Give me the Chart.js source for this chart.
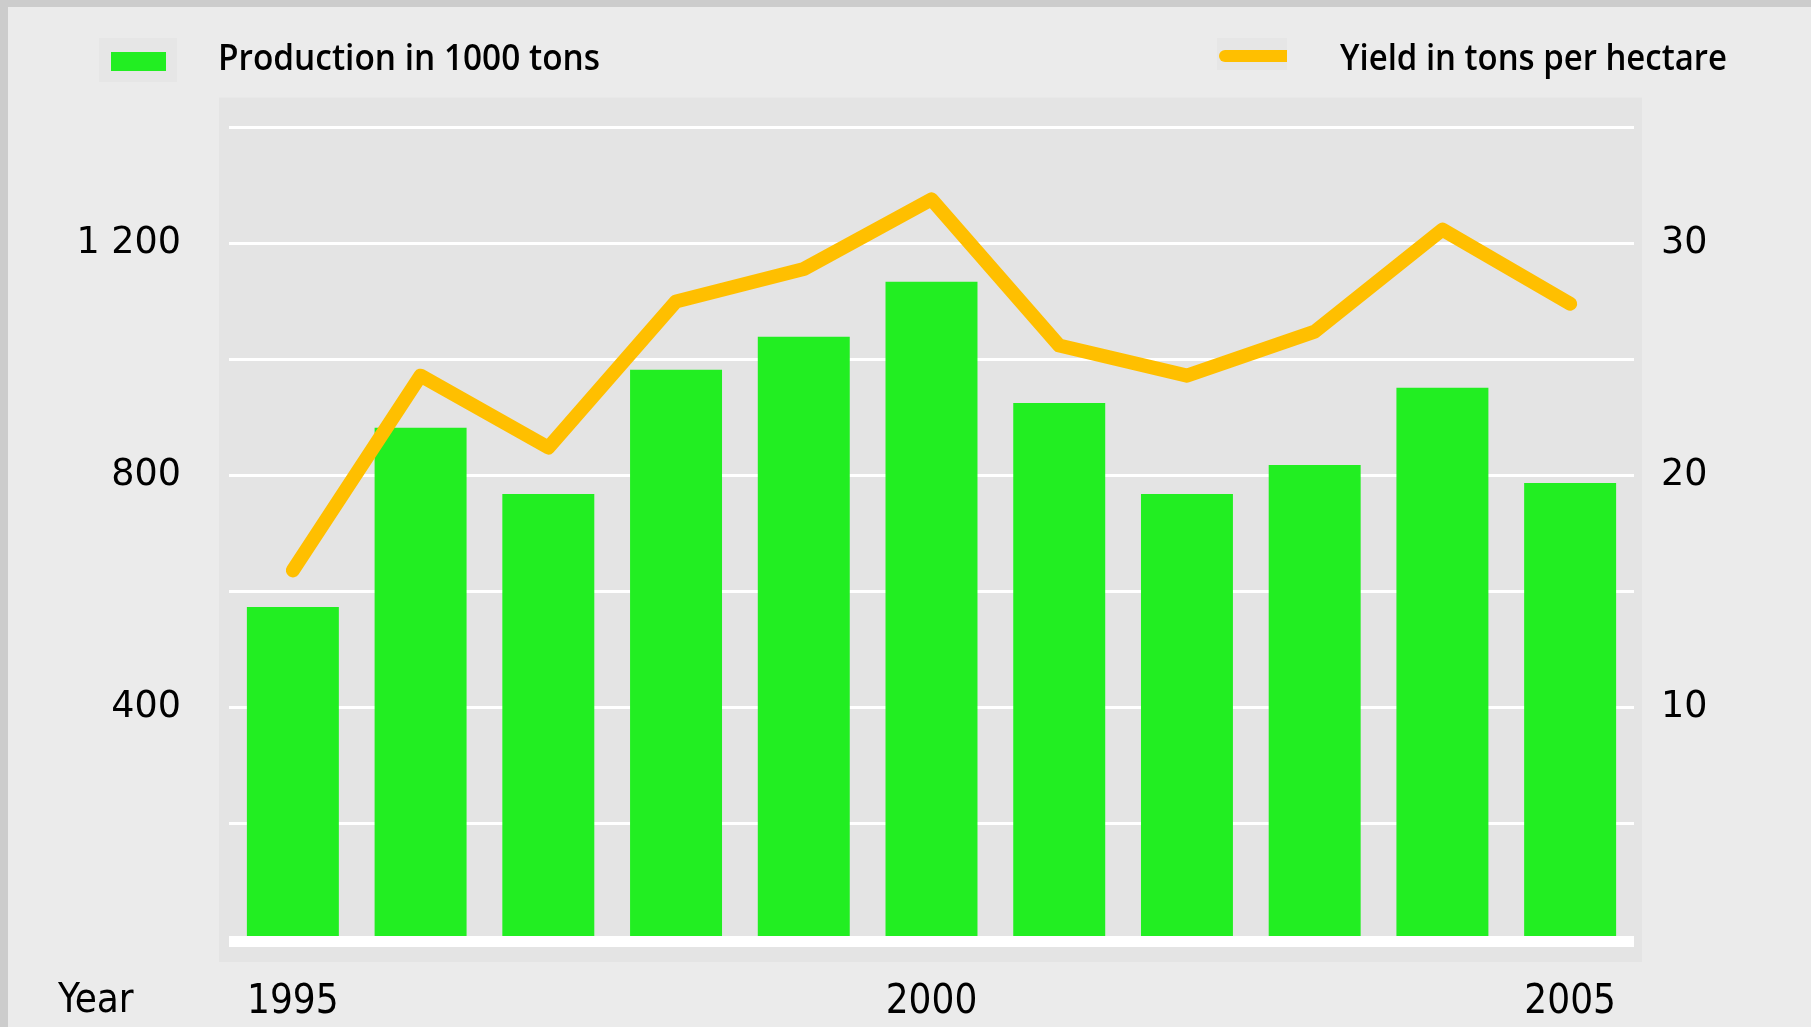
<!DOCTYPE html>
<html>
<head>
<meta charset="utf-8">
<script src="https://cdn.jsdelivr.net/npm/chart.js@4/dist/chart.umd.min.js"></script>
<style>
  html, body { margin: 0; padding: 0; }
  body { width: 1811px; height: 1027px; background: #ebebeb; position: relative; overflow: hidden; }
  #topBorder { position: absolute; left: 0; top: 0; width: 1811px; height: 7px; background: #cccccc; }
  #leftBorder { position: absolute; left: 0; top: 0; width: 8px; height: 1027px; background: #cccccc; }
  #c { position: absolute; left: 0; top: 0; }
  #overlay { position: absolute; left: 0; top: 0; pointer-events: none; }
</style>
</head>
<body>
<div id="topBorder"></div>
<div id="leftBorder"></div>
<canvas id="c" width="1811" height="1027"></canvas>
<svg id="overlay" width="1811" height="1027" xmlns="http://www.w3.org/2000/svg"></svg>
<script>
// ---- Data ----
const years = ['1995','1996','1997','1998','1999','2000','2001','2002','2003','2004','2005'];
const shownYearLabels = ['1995','2000','2005'];
const production = [573, 882, 768, 982, 1039, 1134, 925, 768, 818, 951, 787];
const yieldPerHa = [15.9, 24.3, 21.2, 27.5, 28.9, 31.9, 25.6, 24.3, 26.2, 30.6, 27.4];
const prodTickValues = [400, 800, 1200];
const prodTickLabels = ['400', '800', '1 200'];
const yieldTickValues = [10, 20, 30];
const yieldTickLabels = ['10', '20', '30'];
const productionLabel = 'Production in 1000 tons';
const yieldLabel = 'Yield in tons per hectare';
const xAxisTitle = 'Year';

// ---- Styles ----
const GREEN = '#22ee22';
const ORANGE = '#ffbf00';
const Y_TICK_FONT = { family: 'DejaVu Sans', size: 36.5, weight: 'normal' };
const X_TICK_FONT = { family: 'DejaVu Sans Condensed', size: 40, weight: 'normal' };

const plotBackground = {
  id: 'plotBackground',
  beforeDraw(chart) {
    const { ctx, chartArea: a } = chart;
    ctx.save();
    ctx.fillStyle = '#e4e4e4';
    ctx.fillRect(a.left - 10, a.top - 30, (a.right - a.left) + 18, (a.bottom - a.top) + 53);
    ctx.restore();
  }
};
const baseBand = {
  id: 'baseBand',
  afterDatasetsDraw(chart) {
    const { ctx, chartArea: a } = chart;
    const y0 = chart.scales.yProd.getPixelForValue(0);
    ctx.save();
    ctx.fillStyle = '#ffffff';
    ctx.fillRect(a.left, y0 - 3, a.right - a.left, 11);
    ctx.restore();
  }
};

new Chart(document.getElementById('c'), {
  data: {
    labels: years,
    datasets: [
      {
        type: 'line',
        label: yieldLabel,
        data: yieldPerHa,
        yAxisID: 'yYield',
        borderColor: ORANGE,
        borderWidth: 14,
        borderCapStyle: 'round',
        borderJoinStyle: 'round',
        pointRadius: 0,
        tension: 0,
        fill: false,
        order: 0
      },
      {
        type: 'bar',
        label: productionLabel,
        data: production,
        yAxisID: 'yProd',
        backgroundColor: GREEN,
        borderWidth: 0,
        barPercentage: 0.72,
        categoryPercentage: 1.0,
        order: 1
      }
    ]
  },
  options: {
    responsive: false,
    devicePixelRatio: 1,
    animation: false,
    layout: { padding: { top: 127.6, left: 0, right: 0, bottom: 0 } },
    plugins: { legend: { display: false }, tooltip: { enabled: false }, title: { display: false } },
    scales: {
      x: {
        type: 'category',
        position: 'bottom',
        grid: { display: false, drawTicks: false },
        border: { display: false },
        ticks: {
          autoSkip: false,
          maxRotation: 0,
          padding: 39.5,
          color: '#000',
          font: X_TICK_FONT,
          callback: function (value, index) {
            const lab = years[index];
            return shownYearLabels.includes(lab) ? lab : '';
          }
        },
        afterFit(scale) { scale.height = 88; }
      },
      yProd: {
        type: 'linear',
        position: 'left',
        min: 0,
        max: 1400,
        grid: { color: '#ffffff', lineWidth: 3, drawTicks: false },
        border: { display: false },
        ticks: {
          stepSize: 200,
          padding: 48,
          color: '#000',
          font: Y_TICK_FONT,
          callback: function (value) {
            const i = prodTickValues.indexOf(value);
            return i >= 0 ? prodTickLabels[i] : '';
          }
        },
        afterFit(scale) { scale.width = 229; }
      },
      yYield: {
        type: 'linear',
        position: 'right',
        min: 0,
        max: 35,
        grid: { display: false, drawTicks: false },
        border: { display: false },
        ticks: {
          stepSize: 5,
          padding: 27,
          color: '#000',
          font: Y_TICK_FONT,
          callback: function (value) {
            const i = yieldTickValues.indexOf(value);
            return i >= 0 ? yieldTickLabels[i] : '';
          }
        },
        afterFit(scale) { scale.width = 177; }
      }
    }
  },
  plugins: [plotBackground, baseBand]
});

// ---- Legend and axis title (real SVG text) ----
const svgNS = 'http://www.w3.org/2000/svg';
const svg = document.getElementById('overlay');
function el(tag, attrs, text) {
  const e = document.createElementNS(svgNS, tag);
  for (const k in attrs) e.setAttribute(k, attrs[k]);
  if (text !== undefined) e.textContent = text;
  svg.appendChild(e);
  return e;
}
el('rect', { x: 99, y: 38, width: 78, height: 44, fill: '#e6e6e6' });
el('rect', { x: 111, y: 52, width: 55, height: 19, fill: GREEN });
el('text', { x: 218, y: 69.5, 'font-family': 'Open Sans', 'font-weight': 600, 'font-size': 36, fill: '#000',
  textLength: 382, lengthAdjust: 'spacingAndGlyphs' }, productionLabel);
el('rect', { x: 1217, y: 38, width: 70, height: 32, fill: '#e6e6e6' });
el('rect', { x: 1219, y: 50, width: 68, height: 12, rx: 6, ry: 6, fill: ORANGE });
el('rect', { x: 1279, y: 50, width: 8, height: 12, fill: ORANGE });
el('text', { x: 1340, y: 69.5, 'font-family': 'Open Sans', 'font-weight': 600, 'font-size': 36, fill: '#000',
  textLength: 387, lengthAdjust: 'spacingAndGlyphs' }, yieldLabel);
el('text', { x: 58, y: 1012, 'font-family': 'DejaVu Sans Condensed', 'font-size': 40, fill: '#000' }, xAxisTitle);
</script>
</body>
</html>
